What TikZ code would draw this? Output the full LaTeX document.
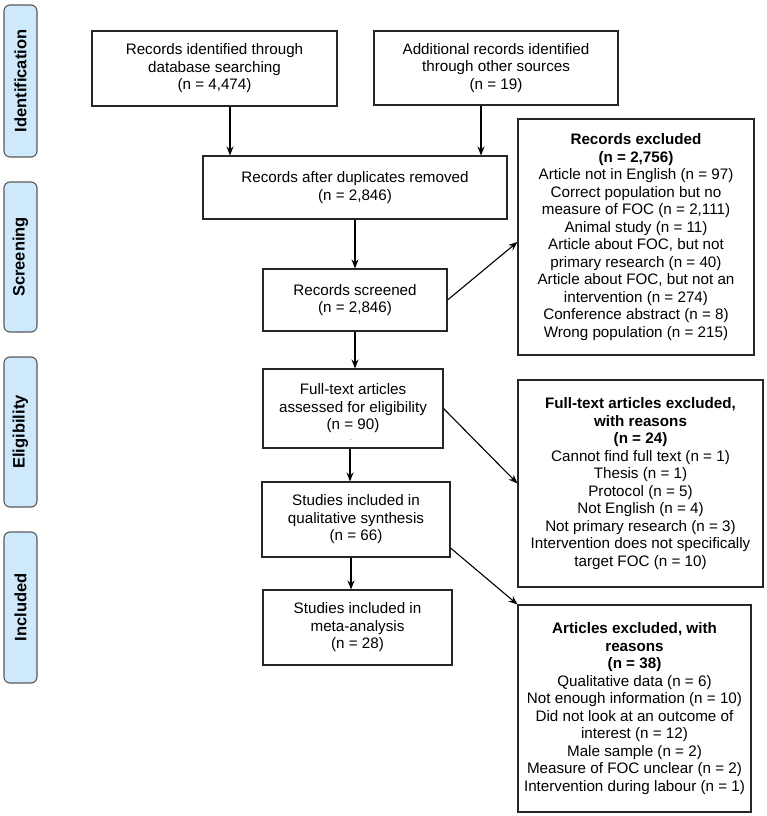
\documentclass[tikz,border=0pt]{standalone}
\usepackage{fontspec}
\setmainfont{Liberation Sans}
\usetikzlibrary{arrows.meta}
\definecolor{phaseblue}{RGB}{206,232,252}
\begin{document}
\begin{tikzpicture}[x=1pt,y=-1pt,
  box/.style={draw=black!85, line width=1.1pt, align=center, inner sep=2pt,
    font=\fontsize{15.2}{17.5}\selectfont},
  phase/.style={draw=black!65, fill=phaseblue, line width=1.1pt, rounded corners=6pt,
    rotate=90, minimum height=33pt, inner sep=0pt,
    font=\fontsize{16.5}{18}\selectfont\bfseries},
  arr/.style={line width=1.1pt, -{Stealth[length=9pt,width=7pt]}}]
\useasboundingbox (0,0) rectangle (767,816);

% phase labels
\node[phase, minimum width=152pt] (pid) at (20.5,81) {Identification};
\node[phase, minimum width=150pt] (psc) at (20.5,257) {Screening};
\node[phase, minimum width=150pt] (pel) at (20.5,432) {Eligibility};
\node[phase, minimum width=151pt] (pin) at (20.5,607.5) {Included};

% main boxes
\node[box, minimum width=245pt, minimum height=75pt] (r1) at (214.5,68.5)
  {Records identified through\\database searching\\(n = 4,474)};
\node[box, minimum width=244pt, minimum height=74pt] (r2) at (496,68)
  {Additional records identified\\through other sources\\(n = 19)};
\node[box, minimum width=304pt, minimum height=63pt] (r3) at (355,187.5)
  {Records after duplicates removed\\(n = 2,846)};
\node[box, minimum width=184pt, minimum height=62pt] (r4) at (355,300)
  {Records screened\\(n = 2,846)};
\node[box, minimum width=180pt, minimum height=79pt] (r5) at (353,408.5)
  {Full-text articles\\assessed for eligibility\\(n = 90)};
\node[font=\fontsize{6}{6}\selectfont, inner sep=0pt] (dot) at (351,440) {.};
\node[box, minimum width=188pt, minimum height=75pt] (r6) at (356,519.5)
  {Studies included in\\qualitative synthesis\\(n = 66)};
\node[box, minimum width=189pt, minimum height=75pt] (r7) at (357.5,627.5)
  {Studies included in\\meta-analysis\\(n = 28)};

% exclusion boxes
\node[box, minimum width=236pt, minimum height=236pt] (e1) at (636,237)
  {\textbf{Records excluded}\\\textbf{(n = 2,756)}\\Article not in English (n = 97)\\
   Correct population but no\\measure of FOC (n = 2,111)\\Animal study (n = 11)\\
   Article about FOC, but not\\primary research (n = 40)\\Article about FOC, but not an\\
   intervention (n = 274)\\Conference abstract (n = 8)\\Wrong population (n = 215)};
\node[box, minimum width=245pt, minimum height=207pt] (e2) at (640.5,483.5)
  {\textbf{Full-text articles excluded,}\\\textbf{with reasons}\\\textbf{(n = 24)}\\
   Cannot find full text (n = 1)\\Thesis (n = 1)\\Protocol (n = 5)\\Not English (n = 4)\\
   Not primary research (n = 3)\\Intervention does not specifically\\target FOC (n = 10)};
\node[box, minimum width=233pt, minimum height=207pt] (e3) at (634.5,708.5)
  {\textbf{Articles excluded, with}\\\textbf{reasons}\\\textbf{(n = 38)}\\
   Qualitative data (n = 6)\\Not enough information (n = 10)\\Did not look at an outcome of\\
   interest (n = 12)\\Male sample (n = 2)\\Measure of FOC unclear (n = 2)\\
   Intervention during labour (n = 1)};

% connectors
\draw[arr] ([xshift=15.5pt]r1.south) -- ([xshift=15.5pt]r1.south |- r3.north);
\draw[arr] ([xshift=-15pt]r2.south) -- ([xshift=-15pt]r2.south |- r3.north);
\draw[arr] (r3.south) -- (r4.north);
\draw[arr] (r4.south) -- (r4.south |- r5.north);
\draw[arr] ([xshift=-3pt]r5.south) -- ([xshift=-3pt]r5.south |- r6.north);
\draw[arr] ([xshift=-5pt]r6.south) -- ([xshift=-5pt]r6.south |- r7.north);
\draw[arr] (r4.east) -- ([yshift=-5pt]e1.west);
\draw[arr] (r5.east) -- (e2.west);
\draw[arr] ([yshift=-28.5pt]r6.east) -- (e3.north west);
\end{tikzpicture}
\end{document}
